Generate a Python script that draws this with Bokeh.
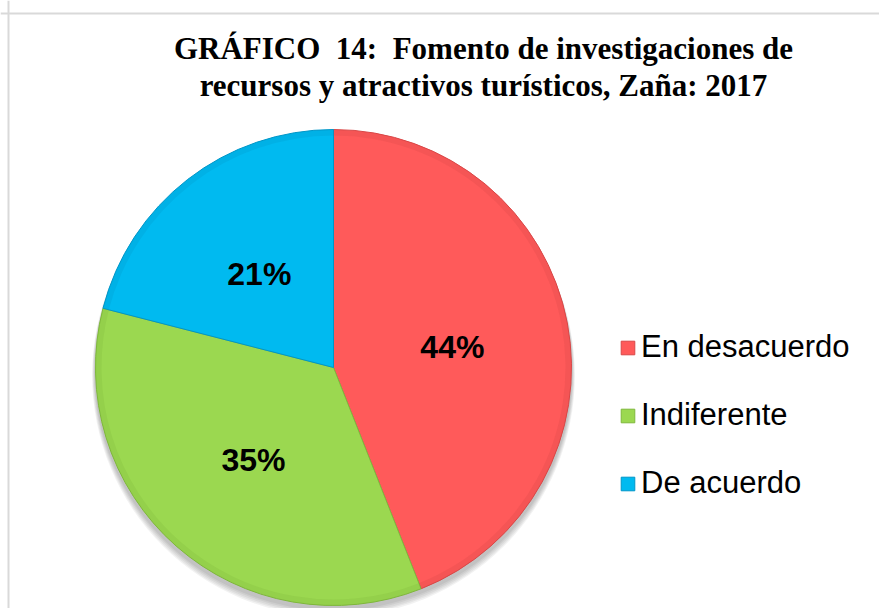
import math
from bokeh.plotting import figure
from bokeh.models import Range1d, Legend, LegendItem, Label, Span, ColumnDataSource
from bokeh.core.properties import value
from bokeh.embed import file_html
from bokeh.resources import INLINE

# ---- data ----
categories = ["En desacuerdo", "Indiferente", "De acuerdo"]
percents = [44, 35, 21]
colors = ["#FF5A5A", "#9BD850", "#00BAF0"]
edge_colors = ["#D94848", "#7FB83C", "#0096C8"]
title_lines = ["GRÁFICO \u00a014: \u00a0Fomento de investigaciones de",
               "recursos y atractivos turísticos, Zaña: 2017"]

W, H = 879, 608
p = figure(width=W, height=H, output_backend="svg", toolbar_location=None,
           x_range=Range1d(0, W), y_range=Range1d(0, H), min_border=0,
           tools="")
p.axis.visible = False
p.grid.visible = False
p.outline_line_color = None
p.background_fill_color = "white"
p.border_fill_color = "white"

# frame border (top and left visible)
p.add_layout(Span(location=H - 13, dimension="width", line_color="#D9D9D9", line_width=2))
p.add_layout(Span(location=8, dimension="height", line_color="#D9D9D9", line_width=2))

cx, cy, R = 333, 241, 238

# soft shadow
for k in range(5):
    p.circle(x=cx, y=cy - 4 - k, radius=R + 1 + k * 0.6, fill_color="black",
             fill_alpha=0.05, line_color=None)

total = sum(percents)
starts, ends, mids = [], [], []
acc = 0.0
for v in percents:
    s = math.pi / 2 - 2 * math.pi * acc / total
    acc += v
    e = math.pi / 2 - 2 * math.pi * acc / total
    starts.append(s)
    ends.append(e)
    mids.append((s + e) / 2)

src = ColumnDataSource(dict(cat=categories, start=starts, end=ends,
                            color=colors, edge=edge_colors))
wr = p.wedge(x=cx, y=cy, radius=R, start_angle="start", end_angle="end",
             direction="clock", fill_color="color", line_color="edge",
             line_width=1, source=src)

# subtle darker rim for bevel look
for i in range(len(percents)):
    p.annular_wedge(x=cx, y=cy, inner_radius=R - 6, outer_radius=R,
                    start_angle=starts[i], end_angle=ends[i], direction="clock",
                    fill_color=edge_colors[i], fill_alpha=0.25, line_color=None)

# labels
lr = 121
lab_x = [cx + lr * math.cos(m) for m in mids]
lab_y = [cy - 2 + lr * math.sin(m) for m in mids]
lab_t = [f"{v}%" for v in percents]
p.text(x=lab_x, y=lab_y, text=lab_t, text_align="center", text_baseline="middle",
       text_font=value("Liberation Sans"), text_font_style="bold",
       text_font_size="32px", text_color="black")

# title
for i, t in enumerate(title_lines):
    p.add_layout(Label(x=483, y=H - 48 - 37 * i, x_units="screen", y_units="screen",
                       text=t, text_align="center", text_baseline="alphabetic",
                       text_font="Liberation Serif", text_font_style="bold",
                       text_font_size="31px", text_color="black"))

items = [LegendItem(label=c, renderers=[wr], index=i) for i, c in enumerate(categories)]
legend = Legend(items=items, location=(619, 107), orientation="vertical",
                label_text_font="Liberation Sans", label_text_font_size="31px",
                label_text_color="black", glyph_width=17, glyph_height=17,
                label_standoff=5, spacing=32, padding=0, margin=0,
                border_line_alpha=0, background_fill_alpha=0)
p.add_layout(legend)

open("out.html", "w").write(file_html(p, INLINE))
